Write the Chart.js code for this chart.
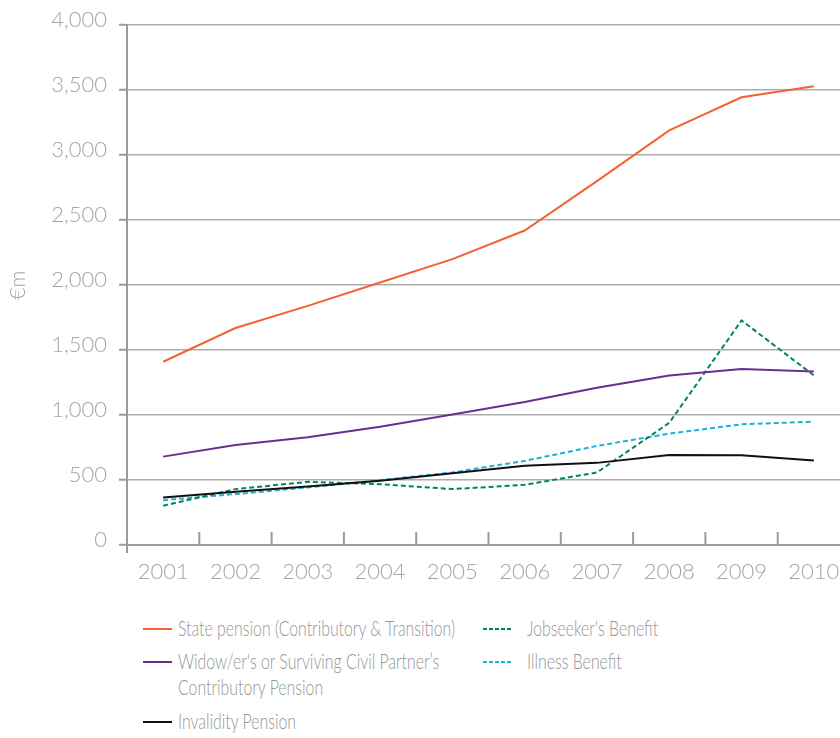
<!DOCTYPE html>
<html>
<head>
<meta charset="utf-8">
<script src="https://cdn.jsdelivr.net/npm/chart.js@4"></script>
<style>
  html, body { margin: 0; padding: 0; background: #fff; overflow: hidden; }
  #wrap { position: relative; width: 840px; height: 738px; overflow: hidden; }
  #wrap canvas { position: absolute; left: 0; top: 0; }
  .leg { position: absolute; font-family: 'Lato', sans-serif; font-weight: 300; font-size: 22px; color: #969696; line-height: 26px; white-space: nowrap; transform: scaleX(0.72); transform-origin: 0 0; }
  .sw { position: absolute; width: 29px; height: 2px; }
</style>
</head>
<body>
<div id="wrap">
  <canvas id="myChart" width="852" height="590" style="width:852px;height:590px"></canvas>
  <div id="legend"></div>
</div>
<script>
// years on the x axis
var years = ['2001', '2002', '2003', '2004', '2005', '2006', '2007', '2008', '2009', '2010'];

// spending, €m
var statePension = [1410, 1670, 1840, 2020, 2200, 2420, 2800, 3190, 3445, 3530];
var widowPension = [680, 770, 830, 910, 1005, 1100, 1210, 1305, 1355, 1335];
var invalidityPension = [366, 410, 450, 494, 552, 609, 632, 693, 690, 650];
var jobseekersBenefit = [302, 430, 486, 468, 430, 463, 558, 940, 1728, 1305];
var illnessBenefit = [345, 392, 443, 499, 558, 647, 762, 857, 929, 949];

var seriesNames = [
    'State pension (Contributory & Transition)',
    'Widow/er\'s or Surviving Civil Partner\u2019s\nContributory Pension',
    'Invalidity Pension',
    'Jobseeker\'s Benefit',
    'Illness Benefit'
];
var seriesColors = ['#f26233', '#6b2d90', '#111111', '#00855f', '#1db1db'];
var seriesDash = [[], [], [], [5, 3], [5, 3]];
var seriesData = [statePension, widowPension, invalidityPension, jobseekersBenefit, illnessBenefit];

var grey = '#9b9b9b';
var tickFont = { family: 'Lato', size: 22, weight: 300 };

// short upward ticks between the years
var xTickMarks = {
    id: 'xTickMarks',
    afterDraw: function(chart) {
        var ctx = chart.ctx;
        var x = chart.scales.x;
        var area = chart.chartArea;
        ctx.save();
        ctx.strokeStyle = grey;
        ctx.lineWidth = 2;
        ctx.beginPath();
        for (var i = 1; i < years.length; i++) {
            var px = (x.getPixelForTick(i - 1) + x.getPixelForTick(i)) / 2;
            ctx.moveTo(px, area.bottom);
            ctx.lineTo(px, area.bottom - 13);
        }
        // y axis runs a little below zero
        ctx.moveTo(area.left, area.bottom);
        ctx.lineTo(area.left, area.bottom + 8);
        ctx.stroke();
        ctx.restore();
    }
};

var datasets = seriesData.map(function(d, i) {
    return {
        label: seriesNames[i],
        data: d,
        borderColor: seriesColors[i],
        backgroundColor: seriesColors[i],
        borderWidth: 2,
        borderDash: seriesDash[i],
        pointRadius: 0,
        tension: 0,
        fill: false
    };
});
// draw order: dashed and black under the coloured lines
datasets[3].order = 3;
datasets[4].order = 4;
datasets[2].order = 2;

var myChart = new Chart(
    document.getElementById('myChart'),
    {
        type: 'line',
        data: { labels: years, datasets: datasets },
        plugins: [xTickMarks],
        options: {
            responsive: false,
            animation: false,
            layout: { padding: { top: 25, right: 2, left: 0, bottom: 0 } },
            plugins: {
                legend: { display: false },
                tooltip: { enabled: false }
            },
            scales: {
                x: {
                    offset: true,
                    grid: { display: false, offset: true },
                    border: { display: true, color: grey, width: 2 },
                    ticks: { color: '#a5a5a5', font: tickFont, padding: 6, maxRotation: 0 },
                    afterFit: function(s) { s.height = 45; }
                },
                y: {
                    min: 0,
                    max: 4000,
                    ticks: {
                        stepSize: 500,
                        color: '#a5a5a5',
                        font: tickFont,
                        padding: 12,
                        labelOffset: -5,
                        callback: function(v) { return v.toLocaleString('en-US'); }
                    },
                    grid: { color: '#acacac', lineWidth: 1.5, tickLength: 8, tickColor: grey, tickWidth: 2 },
                    border: { display: true, color: grey, width: 2 },
                    title: {
                        display: true,
                        text: '\u20acm',
                        color: '#a5a5a5',
                        font: { family: 'Lato', size: 21, weight: 300 },
                        padding: { top: 6, bottom: 0 }
                    },
                    afterFit: function(s) { s.width = 127; }
                }
            }
        }
    }
);

// legend laid out in two columns under the chart
var legendPos = [
    { left: 143, top: 629 },
    { left: 143, top: 662 },
    { left: 143, top: 722 },
    { left: 483, top: 629 },
    { left: 483, top: 662 }
];
var legendEl = document.getElementById('legend');
seriesNames.forEach(function(name, i) {
    var p = legendPos[i];
    var c = seriesColors[i];
    var sw = document.createElement('div');
    sw.className = 'sw';
    sw.style.left = p.left + 'px';
    sw.style.top = (p.top - 1) + 'px';
    sw.style.background = seriesDash[i].length
        ? 'repeating-linear-gradient(90deg, ' + c + ' 0 4px, transparent 4px 6px)'
        : c;
    legendEl.appendChild(sw);
    var tx = document.createElement('div');
    tx.className = 'leg';
    tx.style.left = (p.left + (i < 3 ? 35 : 44)) + 'px';
    tx.style.top = (p.top - 14) + 'px';
    tx.innerHTML = name.replace('\n', '<br>');
    legendEl.appendChild(tx);
});
</script>
</body>
</html>
